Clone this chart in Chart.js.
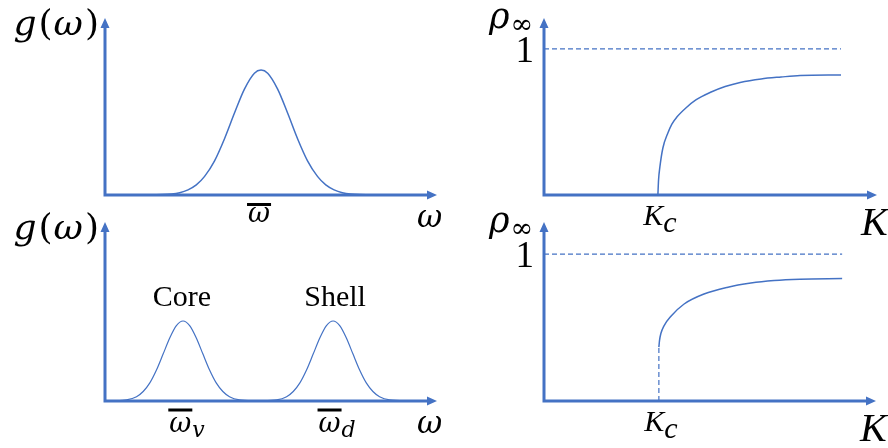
<!DOCTYPE html>
<html>
<head>
<meta charset="utf-8">
<script src="https://cdn.jsdelivr.net/npm/chart.js@4"></script>
<style>
  body { margin: 0; background: #fff; }
  #wrap { position: relative; width: 888px; height: 448px; }
  #wrap canvas { position: absolute; left: 0; top: 0; }
</style>
</head>
<body>
<div id="wrap">
  <canvas id="distOne" width="888" height="448"></canvas>
  <canvas id="orderOne" width="888" height="448"></canvas>
  <canvas id="distTwo" width="888" height="448"></canvas>
  <canvas id="orderTwo" width="888" height="448"></canvas>
</div>
<script>
// unimodal frequency distribution g(omega)
const gX = [10, 20, 22.5, 25, 27.5, 30, 33, 36, 39, 42, 45, 47, 49, 52, 55, 58, 61, 64, 66.5, 69, 71.5, 74, 84];
const gY = [0, 0.6, 1.3, 2.9, 5.7, 10.5, 19.3, 31.8, 46.3, 59.8, 68.8, 70.6, 68.8, 59.8, 46.3, 31.8, 19.3, 10.5, 5.7, 2.9, 1.3, 0.6, 0];
const gMean = 47;

// bimodal distribution: core and shell peaks
const coreX = [2, 6.5, 9.5, 11.5, 13.5, 15.5, 17.5, 19.5, 21.5, 23.5, 25.5, 27.5, 29.5, 31.5, 33.5, 35.5, 37.5, 40.5, 46];
const coreY = [0, 0.6, 2.4, 5.3, 10.1, 17.3, 26.2, 35.2, 42.1, 44.7, 42.1, 35.2, 26.2, 17.3, 10.1, 5.3, 2.4, 0.6, 0];
const shellX = [46, 51.7, 54.7, 56.7, 58.7, 60.7, 62.7, 64.7, 66.7, 68.7, 70.7, 72.7, 74.7, 76.7, 78.7, 80.7, 82.7, 85.7, 92];
const shellY = [0, 0.6, 2.4, 5.3, 10.1, 17.3, 26.2, 35.2, 42.1, 44.7, 42.1, 35.2, 26.2, 17.3, 10.1, 5.3, 2.4, 0.6, 0];
const coreMean = 23.5;
const shellMean = 68.7;

// rho_inf vs K, continuous transition
const rhoX1 = [3.42, 3.44, 3.48, 3.57, 3.72, 3.84, 3.99, 4.26, 4.56, 5.02, 5.44, 5.89, 6.52, 7.12, 7.69, 8.92];
const rhoY1 = [0, 0.103, 0.192, 0.322, 0.425, 0.486, 0.534, 0.596, 0.651, 0.705, 0.743, 0.771, 0.795, 0.808, 0.818, 0.822];
const kc1 = 3.42;
const kEnd1 = 8.92;

// rho_inf vs K, jump at Kc
const rhoX2 = [3.46, 3.48, 3.52, 3.61, 3.83, 4.22, 4.82, 5.51, 6.23, 6.93, 7.71, 8.98];
const rhoY2 = [0.367, 0.412, 0.459, 0.51, 0.578, 0.66, 0.728, 0.773, 0.803, 0.82, 0.829, 0.833];
const kc2 = 3.46;
const kEnd2 = 8.98;

const BLUE = '#4472C4';
const MATH = '"DejaVu Serif"';
const TIMES = '"Liberation Serif"';

const pts = (xs, ys) => xs.map((x, i) => ({ x, y: ys[i] }));

function curve(data, extra) {
  return Object.assign({
    data,
    borderColor: BLUE,
    borderWidth: 1.5,
    pointRadius: 0,
    cubicInterpolationMode: 'monotone',
    fill: false,
  }, extra || {});
}

function dashed(data) {
  return {
    data,
    borderColor: BLUE,
    borderWidth: 1.2,
    borderDash: [5, 3],
    pointRadius: 0,
    tension: 0,
    fill: false,
  };
}

// draw a run of text pieces, each with its own font and baseline shift
function drawRuns(ctx, runs, x, y, align) {
  let w = 0;
  runs.forEach((r) => {
    ctx.font = r.font;
    w += ctx.measureText(r.t).width + (r.gap || 0);
  });
  let cx = align === 'center' ? x - w / 2 : align === 'right' ? x - w : x;
  const spans = [];
  runs.forEach((r) => {
    ctx.font = r.font;
    const rw = ctx.measureText(r.t).width;
    ctx.fillText(r.t, cx, y + (r.dy || 0));
    spans.push([cx, rw]);
    cx += rw + (r.gap || 0);
  });
  return spans;
}

function overline(ctx, span, y) {
  ctx.fillRect(span[0] - 1, y - 1.5, span[1] + 2, 3);
}

const arrowAxes = {
  id: 'arrowAxes',
  afterDatasetsDraw(chart) {
    const { ctx, chartArea: a } = chart;
    ctx.save();
    ctx.strokeStyle = BLUE;
    ctx.fillStyle = BLUE;
    ctx.lineWidth = 3;
    ctx.beginPath();
    ctx.moveTo(a.left, a.bottom + 1.5);
    ctx.lineTo(a.left, a.top + 8);
    ctx.moveTo(a.left - 1.5, a.bottom);
    ctx.lineTo(a.right - 8, a.bottom);
    ctx.stroke();
    ctx.beginPath();
    ctx.moveTo(a.left, a.top);
    ctx.lineTo(a.left - 4.5, a.top + 10);
    ctx.lineTo(a.left + 4.5, a.top + 10);
    ctx.closePath();
    ctx.moveTo(a.right, a.bottom);
    ctx.lineTo(a.right - 10, a.bottom - 4.5);
    ctx.lineTo(a.right - 10, a.bottom + 4.5);
    ctx.closePath();
    ctx.fill();
    ctx.restore();
  },
};

function labels(fn) {
  return {
    id: 'mathLabels',
    afterDraw(chart) {
      const { ctx, chartArea, scales } = chart;
      ctx.save();
      ctx.fillStyle = '#000';
      ctx.textBaseline = 'alphabetic';
      ctx.textAlign = 'left';
      fn(ctx, chartArea, scales.x, scales.y);
      ctx.restore();
    },
  };
}

function gLabel(ctx, a) {
  drawRuns(ctx, [
    { t: 'g', font: 'italic 36px ' + MATH, gap: 2 },
    { t: '(', font: '36px ' + MATH, gap: 1 },
    { t: 'ω', font: 'italic 36px ' + MATH, gap: 2 },
    { t: ')', font: '36px ' + MATH },
  ], a.left - 6, a.top + 17, 'right');
}

function rhoLabel(ctx, a, y) {
  drawRuns(ctx, [
    { t: 'ρ', font: 'italic 35px ' + MATH, gap: 1 },
    { t: '∞', font: '27px ' + MATH, dy: 5 },
  ], a.left - 11, a.top + 10, 'right');
  drawRuns(ctx, [{ t: '1', font: '37px ' + TIMES }], a.left - 10, y.getPixelForValue(1) + 13, 'right');
}

function kcLabel(ctx, a, x, kc) {
  drawRuns(ctx, [
    { t: 'K', font: 'italic 30px ' + TIMES, gap: 0 },
    { t: 'c', font: 'italic 30px ' + TIMES, dy: 7 },
  ], x.getPixelForValue(kc) + 2, a.bottom + 30, 'center');
  drawRuns(ctx, [{ t: 'K', font: 'italic 40px ' + TIMES }], a.right - 16, a.bottom + 40, 'left');
}

function makeChart(id, pad, xMax, yMax, datasets, drawLabels) {
  return new Chart(document.getElementById(id), {
    type: 'line',
    data: { datasets },
    options: {
      responsive: false,
      animation: false,
      events: [],
      layout: { padding: pad },
      plugins: { legend: { display: false }, tooltip: { enabled: false } },
      scales: {
        x: { type: 'linear', min: 0, max: xMax, display: false },
        y: { type: 'linear', min: 0, max: yMax, display: false },
      },
    },
    plugins: [arrowAxes, labels(drawLabels)],
  });
}

makeChart('distOne', { left: 105, right: 451, top: 18, bottom: 253 }, 100, 100,
  [curve(pts(gX, gY))],
  (ctx, a, x, y) => {
    gLabel(ctx, a);
    const s = drawRuns(ctx, [{ t: 'ω', font: 'italic 27px ' + MATH }], x.getPixelForValue(gMean) - 2, a.bottom + 27, 'center');
    overline(ctx, s[0], a.bottom + 9.5);
    drawRuns(ctx, [{ t: 'ω', font: 'italic 31px ' + MATH }], a.right - 20, a.bottom + 32, 'left');
  });

makeChart('orderOne', { left: 544, right: 11, top: 18, bottom: 253 }, 10, 1.212,
  [dashed([{ x: 0, y: 1 }, { x: kEnd1, y: 1 }]), curve(pts(rhoX1, rhoY1))],
  (ctx, a, x, y) => {
    rhoLabel(ctx, a, y);
    kcLabel(ctx, a, x, kc1);
  });

makeChart('distTwo', { left: 105, right: 451, top: 222, bottom: 47 }, 100, 100,
  [curve(pts(coreX, coreY), { borderWidth: 1.2 }), curve(pts(shellX, shellY), { borderWidth: 1.2 })],
  (ctx, a, x, y) => {
    gLabel(ctx, a);
    const peak = y.getPixelForValue(Math.max(...coreY));
    drawRuns(ctx, [{ t: 'Core', font: '30px ' + TIMES }], x.getPixelForValue(coreMean) - 1, peak - 15, 'center');
    drawRuns(ctx, [{ t: 'Shell', font: '30px ' + TIMES }], x.getPixelForValue(shellMean) + 2, peak - 15, 'center');
    const v = drawRuns(ctx, [
      { t: 'ω', font: 'italic 27px ' + MATH, gap: 1 },
      { t: 'v', font: 'italic 22px ' + MATH, dy: 5 },
    ], x.getPixelForValue(coreMean) + 4, a.bottom + 31, 'center');
    overline(ctx, v[0], a.bottom + 9);
    const d = drawRuns(ctx, [
      { t: 'ω', font: 'italic 27px ' + MATH, gap: 1 },
      { t: 'd', font: 'italic 22px ' + MATH, dy: 5 },
    ], x.getPixelForValue(shellMean) + 4, a.bottom + 31, 'center');
    overline(ctx, d[0], a.bottom + 9);
    drawRuns(ctx, [{ t: 'ω', font: 'italic 31px ' + MATH }], a.right - 20, a.bottom + 32, 'left');
  });

makeChart('orderTwo', { left: 544, right: 12, top: 222, bottom: 47 }, 10, 1.218,
  [
    dashed([{ x: 0, y: 1 }, { x: kEnd2, y: 1 }]),
    dashed([{ x: kc2, y: 0 }, { x: kc2, y: rhoY2[0] }]),
    curve(pts(rhoX2, rhoY2)),
  ],
  (ctx, a, x, y) => {
    rhoLabel(ctx, a, y);
    kcLabel(ctx, a, x, kc2);
  });
</script>
</body>
</html>
